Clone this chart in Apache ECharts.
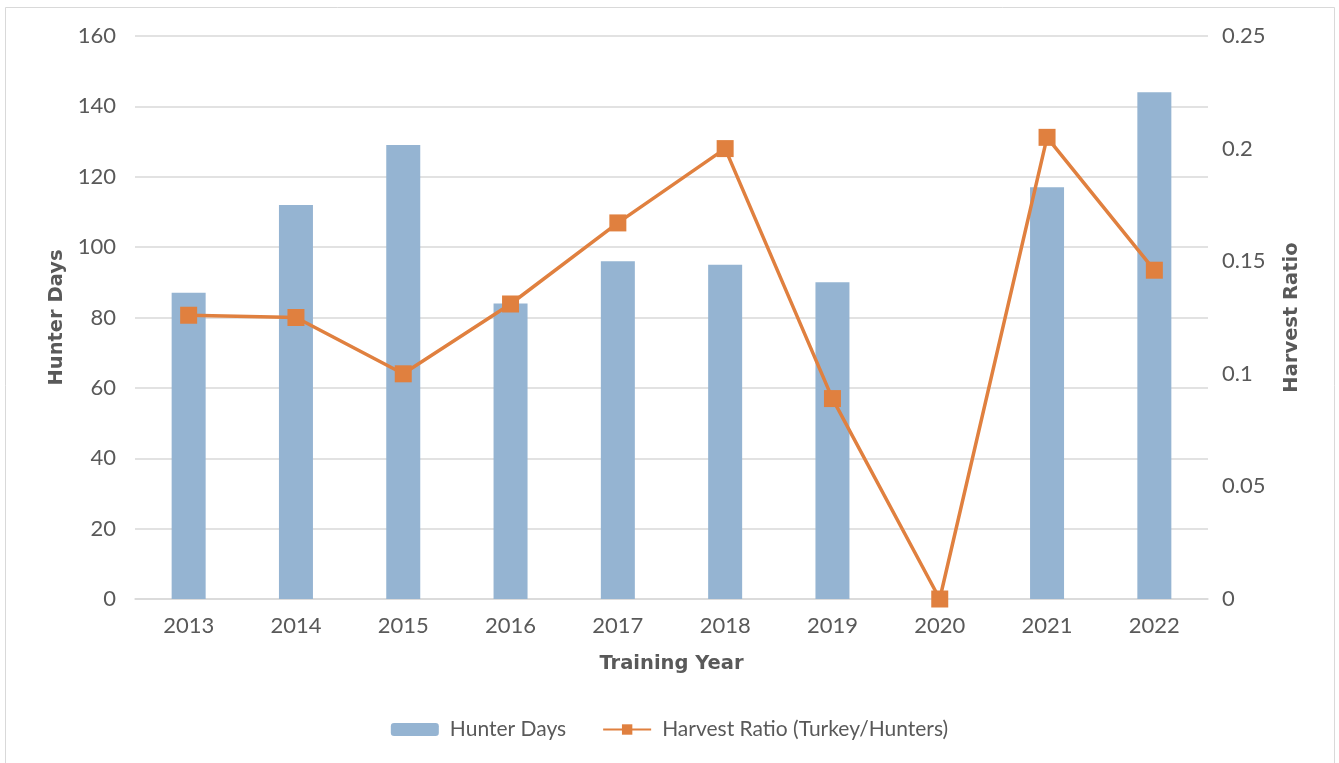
<!DOCTYPE html>
<html>
<head>
<meta charset="utf-8">
<script src="https://cdn.jsdelivr.net/npm/echarts@6/dist/echarts.min.js"></script>
<style>
html, body { margin: 0; padding: 0; background: #fff; }
#main { width: 1339px; height: 763px; }
</style>
</head>
<body>
<div id="main"></div>
<script>
var years = ['2013', '2014', '2015', '2016', '2017', '2018', '2019', '2020', '2021', '2022'];
var hunterDays = [87, 112, 129, 84, 96, 95, 90, 0, 117, 144];
var harvestRatio = [0.126, 0.125, 0.1, 0.131, 0.167, 0.2, 0.089, 0, 0.205, 0.146];

var font = 'Lato, "DejaVu Sans", sans-serif';
var boldFont = '"DejaVu Sans", sans-serif';
var myChart = echarts.init(document.getElementById('main'));

var option = {
    backgroundColor: '#fff',
    textStyle: { fontFamily: font },
    graphic: [{
        type: 'rect',
        shape: { x: 5.5, y: 7.5, width: 1329, height: 770 },
        style: { fill: 'none', stroke: '#d9d9d9', lineWidth: 1 },
        silent: true
    }],
    legend: {
        bottom: 18,
        left: 'center',
        itemWidth: 48,
        itemHeight: 13,
        itemGap: 36,
        textStyle: { fontSize: 21, color: '#595959', fontFamily: font, padding: [0, 0, 0, 6] },
        data: ['Hunter Days', 'Harvest Ratio (Turkey/Hunters)']
    },
    grid: {
        left: 135,
        right: 131,
        top: 36,
        bottom: 164
    },
    xAxis: {
        type: 'category',
        data: years,
        name: 'Training Year',
        nameLocation: 'middle',
        nameGap: 55,
        nameTextStyle: { fontSize: 19.5, fontWeight: 'bold', color: '#595959', fontFamily: boldFont },
        axisLine: { lineStyle: { color: '#d9d9d9', width: 1.5 } },
        axisTick: { show: false },
        axisLabel: { fontSize: 22, color: '#595959', margin: 16 }
    },
    yAxis: [{
        type: 'value',
        min: 0,
        max: 160,
        interval: 20,
        name: 'Hunter Days',
        nameLocation: 'middle',
        nameGap: 66,
        nameTextStyle: { fontSize: 19.5, fontWeight: 'bold', color: '#595959', fontFamily: boldFont },
        axisLine: { show: false },
        axisTick: { show: false },
        axisLabel: { fontSize: 22, color: '#595959', margin: 19 },
        splitLine: { lineStyle: { color: '#d9d9d9', width: 1.5 } }
    }, {
        type: 'value',
        min: 0,
        max: 0.25,
        interval: 0.05,
        name: 'Harvest Ratio',
        nameLocation: 'middle',
        nameGap: 74,
        nameTextStyle: { fontSize: 19.5, fontWeight: 'bold', color: '#595959', fontFamily: boldFont },
        axisLine: { show: false },
        axisTick: { show: false },
        axisLabel: { fontSize: 22, color: '#595959', margin: 14 },
        splitLine: { show: false }
    }],
    series: [{
        name: 'Hunter Days',
        type: 'bar',
        yAxisIndex: 0,
        barWidth: 34,
        itemStyle: { color: '#95b4d2' },
        data: hunterDays
    }, {
        name: 'Harvest Ratio (Turkey/Hunters)',
        type: 'line',
        yAxisIndex: 1,
        symbol: 'rect',
        symbolSize: 17,
        lineStyle: { color: '#e0803f', width: 3.5 },
        itemStyle: { color: '#e0803f' },
        data: harvestRatio
    }]
};

myChart.setOption(option);
</script>
</body>
</html>
